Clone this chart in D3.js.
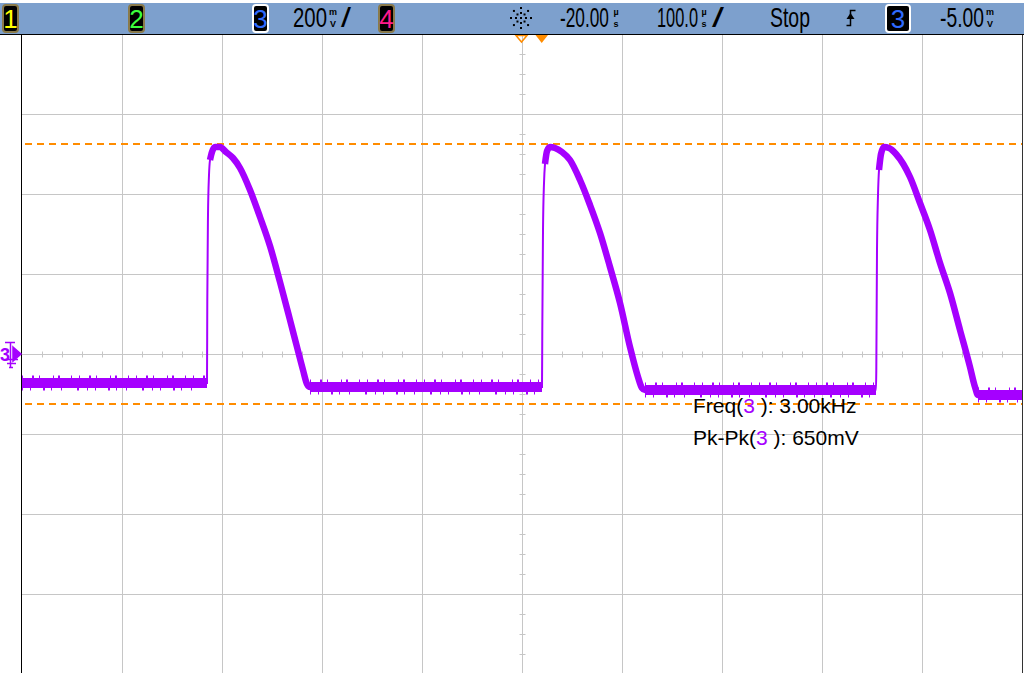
<!DOCTYPE html>
<html>
<head>
<meta charset="utf-8">
<script src="https://cdn.jsdelivr.net/npm/d3@7"></script>
<style>
body { margin: 0; background: #fff; }
svg { display: block; font-family: "Liberation Sans", Arial, sans-serif; }
</style>
</head>
<body>
<div id="scope"></div>
<script>
const width = 1024, height = 673;

// channel 3 trace: time in us, level in mV
const traceTime = [
  -520, -335, -334.7, -334, -333, -332, -330, -327, -322, -316, -309, -302, -292, -282,
  -272, -262, -252, -245, -239, -235, -232,
  0, 0.3, 1, 2, 3, 5, 8, 13, 20, 28, 38, 48, 58, 68, 78, 88, 96, 100, 103,
  334, 334.3, 335, 336, 337, 339, 342, 347, 354, 368, 378, 388, 398, 408, 418, 428, 433, 436,
  480
];
const traceMv = [
  -72.5, -72.5, 135, 347.5, 447.5, 485, 505, 517.5, 517.5, 505, 490, 465, 410, 342.5,
  270, 180, 85, 17.5, -40, -75, -82.5,
  -82.5, 60, 310, 427, 475, 507, 517.5, 515, 505, 485, 435, 372.5, 302.5, 217.5, 127.5, 17.5, -57.5, -85, -90,
  -90, -40, 260, 397, 460, 500, 517.5, 515, 500, 442.5, 377.5, 310, 227.5, 152.5, 60, -32.5, -82.5, -102.5,
  -102.5
];
// rising edges (us)
const edgeTimes = [-335, 0, 334];

// pk-pk cursors (mV)
const cursorMv = [525, -125];

const channels = ["1", "2", "3", "4"];
const channelColors = ["#ffff00", "#3cff3c", "#2f6bff", "#ff1a8c"];

const measureNames = ["Freq", "Pk-Pk"];
const measureValues = ["3.00kHz", "650mV"];

const timeDomain = [-520, 480];   // 100 us/div, delay -20 us
const voltDomain = [-800, 800];   // 200 mV/div

const purple = "#a500ff",
    orange = "#ff8c00";

let svg = d3.select("#scope").append("svg")
    .attr("width", width)
    .attr("height", height);

let x = d3.scaleLinear().domain(timeDomain).range([22, 1022]);
let y = d3.scaleLinear().domain(voltDomain).range([674, 34]);

svg.append("defs").append("clipPath").attr("id", "clip")
  .append("rect")
    .attr("x", 22).attr("y", 35)
    .attr("width", 1000).attr("height", height - 35);

// grid
let grid = svg.append("g").attr("stroke", "#c6c6c6").attr("stroke-width", 1);

grid.selectAll(".vx")
  .data(d3.range(timeDomain[0] + 100, timeDomain[1], 100))
  .enter().append("line")
    .attr("x1", d => Math.round(x(d)) + 0.5)
    .attr("x2", d => Math.round(x(d)) + 0.5)
    .attr("y1", 35).attr("y2", height);

grid.selectAll(".hy")
  .data(d3.range(voltDomain[0] + 200, voltDomain[1], 200))
  .enter().append("line")
    .attr("y1", d => Math.round(y(d)) + 0.5)
    .attr("y2", d => Math.round(y(d)) + 0.5)
    .attr("x1", 22).attr("x2", 1022);

// minor ticks on the centre lines
let cx = Math.round(x(-20)) + 0.5,
    cy = Math.round(y(0)) + 0.5;

grid.selectAll(".mt")
  .data(d3.range(timeDomain[0] + 20, timeDomain[1], 20).filter(d => (d - timeDomain[0]) % 100 != 0))
  .enter().append("line")
    .attr("x1", d => Math.round(x(d)) + 0.5)
    .attr("x2", d => Math.round(x(d)) + 0.5)
    .attr("y1", cy - 3).attr("y2", cy + 3);

grid.selectAll(".mv")
  .data(d3.range(voltDomain[0] + 50, voltDomain[1], 50).filter(d => d % 200 != 0))
  .enter().append("line")
    .attr("y1", d => Math.round(y(d)) + 0.5)
    .attr("y2", d => Math.round(y(d)) + 0.5)
    .attr("x1", cx - 3).attr("x2", cx + 3);

// borders
svg.append("line")
  .attr("x1", 21.5).attr("x2", 21.5).attr("y1", 34).attr("y2", height)
  .attr("stroke", "#000");
svg.append("line")
  .attr("x1", 1022.5).attr("x2", 1022.5).attr("y1", 34).attr("y2", height)
  .attr("stroke", "#333");

let plot = svg.append("g").attr("clip-path", "url(#clip)");

// cursors
plot.selectAll(".cursor")
  .data(cursorMv)
  .enter().append("line")
    .attr("x1", 25).attr("x2", 1022)
    .attr("y1", d => y(d)).attr("y2", d => y(d))
    .attr("stroke", orange)
    .attr("stroke-width", 2)
    .attr("stroke-dasharray", "7,5");

// trace
let pts = traceTime.map((t, i) => ({t: t, v: traceMv[i]}));
let onEdge = d => edgeTimes.some(e => d.t > e && d.t < e + 2.5);

let thin = d3.line().curve(d3.curveMonotoneX).x(d => x(d.t)).y(d => y(d.v));
let thick = d3.line().curve(d3.curveMonotoneX).defined(d => !onEdge(d)).x(d => x(d.t)).y(d => y(d.v));

plot.append("path")
  .datum(pts)
  .attr("d", thin)
  .attr("fill", "none")
  .attr("stroke", purple)
  .attr("stroke-width", 2);

plot.append("path")
  .datum(pts)
  .attr("d", thick)
  .attr("fill", "none")
  .attr("stroke", purple)
  .attr("stroke-width", 6.5);

// flat parts of the trace carry a wider noise band
let flats = d3.pairs(pts).filter(p => p[1].t - p[0].t > 40);

flats.forEach(p => {
  let x0 = x(p[0].t), x1 = x(p[1].t), yy = y((p[0].v + p[1].v) / 2);
  plot.append("line")
    .attr("x1", x0).attr("x2", x1).attr("y1", yy).attr("y2", yy)
    .attr("stroke", purple).attr("stroke-width", 10);
  plot.append("line")
    .attr("x1", x0).attr("x2", x1).attr("y1", yy - 6).attr("y2", yy - 6)
    .attr("stroke", purple).attr("stroke-width", 3)
    .attr("stroke-dasharray", "1,9,2,5,1,13,1,4,2,11,1,7");
  plot.append("line")
    .attr("x1", x0).attr("x2", x1).attr("y1", yy + 6).attr("y2", yy + 6)
    .attr("stroke", purple).attr("stroke-width", 3)
    .attr("stroke-dasharray", "1,7,1,12,2,6,1,9,1,15,2,8");
});

// measurements
let meas = svg.append("g")
  .attr("font-size", 21)
  .attr("fill", "#000");

measureNames.forEach((name, i) => {
  let t = meas.append("text")
    .attr("x", 693)
    .attr("y", 413 + i * 32);
  t.append("tspan").text(name + "(");
  t.append("tspan").attr("fill", purple).text("3");
  t.append("tspan").text(" ): " + measureValues[i]);
});

// channel 3 ground marker
let gm = svg.append("g").attr("fill", purple).attr("stroke", purple);
gm.append("text")
  .attr("x", 0).attr("y", 361)
  .attr("stroke", "none")
  .attr("font-size", 18)
  .attr("font-weight", "bold")
  .text("3");
gm.append("path")
  .attr("d", "M5,342.5H15M10.5,342V367M13,347L21,354L13,361Z")
  .attr("stroke-width", 1.5);
gm.append("path")
  .attr("d", "M5,359.5H18M7,363.5H16M9,367.5H13")
  .attr("fill", "none")
  .attr("stroke-width", 1.5);

// delay / trigger markers at the top
svg.append("path")
  .attr("d", "M516,35.5L527,35.5L521.5,42Z")
  .attr("fill", "none").attr("stroke", orange).attr("stroke-width", 1.5);
svg.append("path")
  .attr("d", "M535.5,35L548,35L541.7,43Z")
  .attr("fill", orange);

// status bar
let bar = svg.append("g");
bar.append("rect")
  .attr("x", 0).attr("y", 3)
  .attr("width", width).attr("height", 31)
  .attr("fill", "#7da0cd");
svg.append("line")
  .attr("x1", 0).attr("x2", width).attr("y1", 34.5).attr("y2", 34.5)
  .attr("stroke", "#000");

function badge(bx, bw, label, color, active) {
  bar.append("rect")
    .attr("x", bx + 1).attr("y", 5)
    .attr("width", bw - 2).attr("height", 27)
    .attr("rx", 3)
    .attr("fill", "#000")
    .attr("stroke", active ? "#fff" : "#8a7a4a")
    .attr("stroke-width", 2);
  bar.append("text")
    .attr("x", bx + bw / 2).attr("y", 28)
    .attr("text-anchor", "middle")
    .attr("font-size", 26)
    .attr("fill", color)
    .text(label);
}

let badgeX = [2, 128, 252, 378];
channels.forEach((c, i) => badge(badgeX[i], 17, c, channelColors[i], c == "3"));
badge(885, 26, "3", channelColors[2], true);

// the scope font is condensed: squeeze the text horizontally to the read width
function label(lx, len, s) {
  let t = bar.append("text")
    .attr("font-size", 27)
    .text(s);
  let w = t.node().getComputedTextLength();
  t.attr("transform", "translate(" + lx + ",27) scale(" + (len / w) + ",1)");
}

// stacked unit, e.g. m over V
function unit(ux, top, bottom) {
  let g = bar.append("g")
    .attr("font-size", 9)
    .attr("font-weight", "bold")
    .attr("text-anchor", "middle");
  g.append("text").attr("x", ux).attr("y", 15).text(top);
  g.append("text").attr("x", ux).attr("y", 27).text(bottom);
}

label(293, 34, "200");
unit(333, "m", "V");
label(341, 10, "/");

label(560, 49, "-20.00");
unit(616, "µ", "s");
label(657, 41, "100.0");
unit(704, "µ", "s");
label(712, 12, "/");
label(770, 40, "Stop");
label(940, 44, "-5.00");
unit(990, "m", "V");

// trigger slope symbol
bar.append("path")
  .attr("d", "M846.5,25.5H850.5V10.5H855.5")
  .attr("fill", "none").attr("stroke", "#000").attr("stroke-width", 1.5);
bar.append("path")
  .attr("d", "M846.5,19L850.5,13L854.5,19Z")
  .attr("fill", "#000");

// acquisition icon (dotted star)
let icon = bar.append("g").attr("fill", "#000");
d3.range(8).forEach(k => {
  let a = k * Math.PI / 4;
  [5, 10].forEach(r => {
    icon.append("rect")
      .attr("x", 521 + r * Math.cos(a) - 1)
      .attr("y", 18 + r * Math.sin(a) - 1)
      .attr("width", 2).attr("height", 2);
  });
});
icon.append("rect").attr("x", 520).attr("y", 17).attr("width", 2).attr("height", 2);
</script>
</body>
</html>
